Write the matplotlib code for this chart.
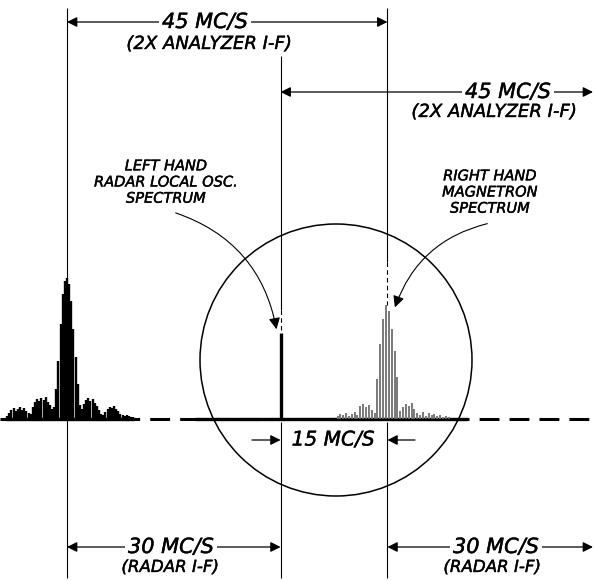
import matplotlib
matplotlib.use("Agg")
from matplotlib import pyplot as plt
from matplotlib import patheffects
from matplotlib.patches import Ellipse, FancyArrowPatch

# frequency axis in MC/S, 0 = left hand local osc. image
left_center = 0.0
osc_freq = 30.0
mag_freq = 45.0
right_end = 75.0

# left hand spectrum: offset from centre (MC/S) and height above baseline (px)
left_offsets = [-8.4, -8.1, -7.8, -7.5, -7.2, -6.9, -6.6, -6.3, -6.0, -5.7,
                -5.4, -5.1, -4.8, -4.5, -4.2, -3.9, -3.6, -3.3, -3.0, -2.7,
                -2.4, -2.1, -1.8, -1.5, -1.2, -0.9, -0.6, -0.3, 0.0, 0.3,
                0.6, 0.9, 1.2, 1.5, 1.8, 2.1, 2.4, 2.7, 3.0, 3.3,
                3.6, 3.9, 4.2, 4.5, 4.8, 5.1, 5.4, 5.7, 6.0, 6.3,
                6.6, 6.9, 7.2, 7.5, 7.8, 8.1, 8.4, 8.7, 9.0, 9.3]
left_heights = [3, 6, 9, 11, 8, 10, 12, 9, 11, 8,
                6, 5, 12, 17, 20, 18, 21, 19, 22, 17,
                14, 10, 12, 30, 58, 95, 125, 138, 141, 135,
                118, 90, 62, 35, 14, 10, 15, 19, 21, 18,
                20, 16, 13, 9, 5, 4, 7, 10, 12, 11,
                13, 10, 8, 5, 4, 3, 4, 3, 2, 2]

# right hand magnetron spectrum
right_offsets = [-7.0, -6.6, -6.2, -5.8, -5.4, -5.0, -4.6, -4.2, -3.8, -3.4,
                 -3.0, -2.6, -2.2, -1.8, -1.4, -1.0, -0.6, -0.2, 0.2, 0.6,
                 1.0, 1.4, 1.8, 2.2, 2.6, 3.0, 3.4, 3.8, 4.2, 4.6,
                 5.0, 5.4, 5.8, 6.2, 6.6, 7.0, 7.4, 7.8, 8.2, 8.6]
right_heights = [3, 5, 4, 6, 3, 5, 7, 4, 13, 15,
                 12, 14, 9, 6, 40, 75, 100, 114, 108, 90,
                 68, 42, 8, 12, 15, 13, 16, 10, 6, 4,
                 7, 3, 6, 4, 5, 3, 4, 2, 3, 2]

osc_height = 86

px = 7.12          # pixels per MC/S
x0 = 67            # pixel of f = 0
base_y = 419


def f(xpix):
    return (xpix - x0) / px


fig = plt.figure(figsize=(5.95, 5.81), dpi=100)
ax = fig.add_axes([0, 0, 1, 1])
ax.set_xlim(f(0), f(595))
ax.set_ylim(581, 0)
ax.axis("off")

font = dict(family="DejaVu Sans", style="italic", color="black",
            path_effects=[patheffects.withStroke(linewidth=0.3, foreground="black")])

# baseline: dashed, solid inside the screen and under the left spectrum
ax.plot([f(0), f(600)], [base_y, base_y], color="black", lw=2.2, dashes=(6.5, 3.3))
ax.plot([f(195), f(467)], [base_y, base_y], color="black", lw=2.4, solid_capstyle="butt")
ax.plot([f(6), f(134)], [base_y, base_y], color="black", lw=2.4, solid_capstyle="butt")

# vertical reference lines
ax.vlines(left_center, 8, 578, color="black", lw=0.8)
ax.vlines(mag_freq, 8, 262, color="black", lw=0.8)
ax.vlines(mag_freq, 262, 305, color="black", lw=0.8, linestyles=(0, (4, 3)))
ax.vlines(mag_freq, 422, 578, color="black", lw=0.8)
ax.vlines(osc_freq, 56, 310, color="black", lw=0.8)
ax.vlines(osc_freq, 310, 333, color="black", lw=0.8, linestyles=(0, (4, 3)))
ax.vlines(osc_freq, 422, 578, color="black", lw=0.8)

# spectra
ax.vlines([left_center + o for o in left_offsets], base_y, [base_y - h for h in left_heights],
          color="black", lw=1.7)
ax.vlines([mag_freq + o for o in right_offsets], base_y, [base_y - h for h in right_heights],
          color="#6e6e6e", lw=1.3)
ax.vlines(osc_freq, base_y, base_y - osc_height, color="black", lw=2.4)

# screen circle
ax.add_patch(Ellipse((f(336), 360), 2 * 136 / px, 272, fill=False, color="black", lw=1.1))


def dim(xa, xb, y, label, sub, sub_y, xt, xs, fs=15, sfs=13):
    ax.annotate("", xy=(xa, y), xytext=(xb, y),
                arrowprops=dict(arrowstyle="<|-|>", color="black", lw=0.9,
                                mutation_scale=15, shrinkA=0, shrinkB=0))
    ax.text(xt, y, label, fontsize=fs, ha="center", va="center",
            bbox=dict(facecolor="white", edgecolor="none", pad=2), **font)
    ax.text(xs, sub_y, sub, fontsize=sfs, ha="center", va="center", **font)


dim(left_center, mag_freq, 22, "45 MC/S", "(2X ANALYZER I-F)", 44, f(205), f(209))
dim(osc_freq, f(593), 92, "45 MC/S", "(2X ANALYZER I-F)", 112, f(508), f(494))
dim(left_center, osc_freq, 547, "30 MC/S", "(RADAR I-F)", 567, f(171), f(170), sfs=12)
dim(mag_freq, f(593), 547, "30 MC/S", "(RADAR I-F)", 567, f(496), f(492), sfs=12)

# 15 MC/S between the two signals
for tail, head in [(f(252), osc_freq), (f(415), mag_freq)]:
    ax.annotate("", xy=(head, 440), xytext=(tail, 440),
                arrowprops=dict(arrowstyle="-|>", color="black", lw=0.9, mutation_scale=15,
                                shrinkA=0, shrinkB=0))
ax.text(f(333), 440, "15 MC/S", fontsize=14.5, ha="center", va="center", **font)

# labels with leaders
ax.text(f(166), 182, "LEFT HAND\nRADAR LOCAL OSC.\nSPECTRUM", fontsize=10.5,
        ha="center", va="center", linespacing=1.1, **font)
ax.text(f(490), 192, "RIGHT HAND\nMAGNETRON\nSPECTRUM", fontsize=10.5,
        ha="center", va="center", linespacing=1.1, **font)

ax.add_patch(FancyArrowPatch((f(173), 212), (f(277), 332),
                             connectionstyle="arc3,rad=-0.3", arrowstyle="-|>",
                             mutation_scale=17, color="black", lw=0.8))
ax.add_patch(FancyArrowPatch((f(490), 223), (f(394), 310),
                             connectionstyle="arc3,rad=0.28", arrowstyle="-|>",
                             mutation_scale=17, color="black", lw=0.8))

fig.savefig("out.png", dpi=100)
